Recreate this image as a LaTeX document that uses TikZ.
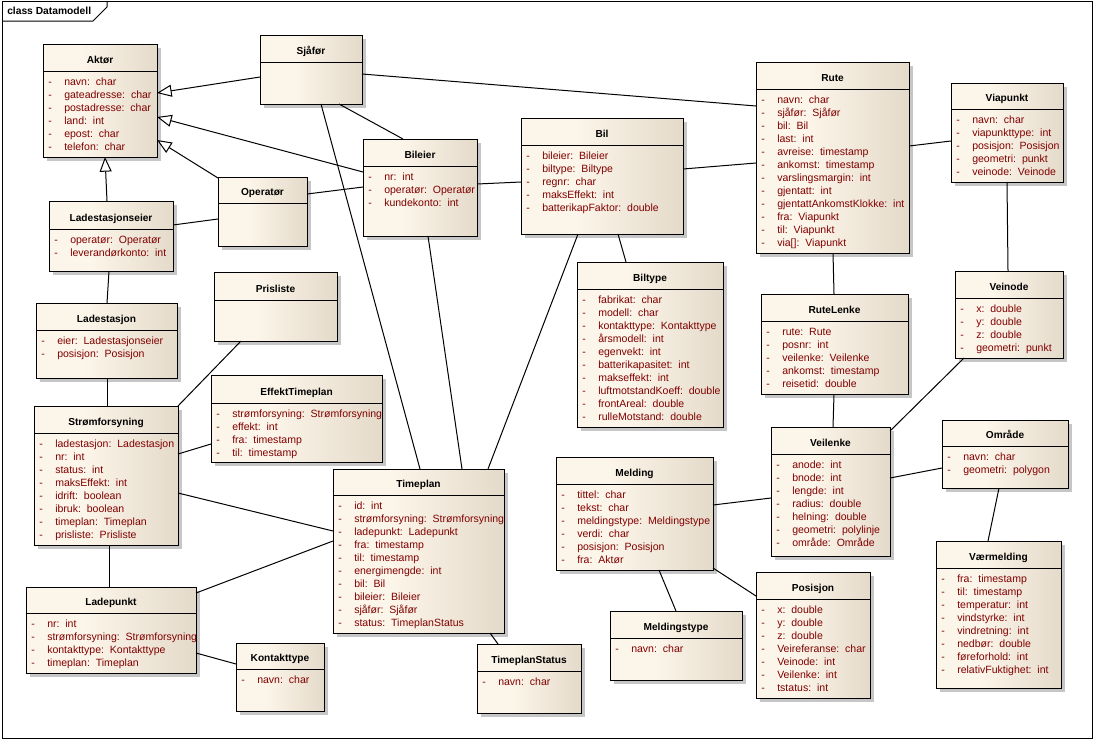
\documentclass[tikz,border=0pt]{standalone}
\usepackage{fontspec}
\setmainfont{Liberation Sans}
\usetikzlibrary{arrows.meta,calc}
\definecolor{clsL}{RGB}{252,245,233}
\definecolor{clsR}{RGB}{228,218,202}
\definecolor{shadowc}{RGB}{198,198,198}
\definecolor{attrc}{RGB}{128,0,0}
\newlength\pxu \setlength\pxu{0.75pt}
\pgfdeclarehorizontalshading{clsshade}{100bp}{color(0bp)=(clsL); color(25bp)=(clsL); color(42bp)=(clsL); color(75bp)=(clsR); color(100bp)=(clsR)}
\tikzset{
  clsbox/.style={draw, line width=0.75pt, shade, shading=clsshade, anchor=north west, inner sep=0pt, outer sep=0pt},
  clstitle/.style={anchor=base, inner sep=0pt, font=\bfseries\fontsize{7.6}{9}\selectfont},
  attr/.style={anchor=base west, inner sep=0pt, text=attrc, font=\fontsize{7.9}{9.75}\selectfont},
  conn/.style={draw, line width=0.75pt},
  gen/.style={conn, -{Triangle[length=11pt,width=9pt,fill=white]}}
}
\newcommand\umlbox[7]{%
  \fill[shadowc] (#2+4,#3+4) rectangle (#4+4,#5+4);
  \node[clsbox, minimum width={(#4-#2)*0.75pt}, minimum height={(#5-#3)*0.75pt}] (#1) at (#2,#3) {};
  \draw[line width=0.75pt] ($(#1.north west)+(0,#6-#3)$) -- ($(#1.north east)+(0,#6-#3)$);
  \node[clstitle] (#1-t) at ({(#2+#4)/2},#6-8) {#7};
}
\newcommand\umlattrs[4]{%
  \foreach \a [count=\i] in {#4} {\node[attr] (#1-a\i) at (#2+5,#3+14+13*\i-13) {\makebox[16\pxu][l]{-}\a};}
}
\begin{document}
\begin{tikzpicture}[x=0.75pt,y=-0.75pt]
\useasboundingbox (0,0) rectangle (1094,739);
% frame
\node[draw, line width=0.75pt, anchor=north west, inner sep=0pt, outer sep=0pt, minimum width={1090*0.75pt}, minimum height={737*0.75pt}] (frame) at (2,1) {};
\draw[line width=0.75pt] ($(frame.north west)+(0,20)$) -- ++(91,0) -- ++(14,-14) -- ($(frame.north west)+(105,0)$);
\node[anchor=base west, inner sep=0pt, font=\bfseries\fontsize{7.7}{9}\selectfont] (frametitle) at (7,14.5) {class Datamodell};

% classes
\umlbox{aktor}{43}{44}{157}{157}{71}{Aktør}
\umlattrs{aktor}{43}{71}{navn:~~char, gateadresse:~~char, postadresse:~~char, land:~~int, epost:~~char, telefon:~~char}
\umlbox{sjafor}{260}{35}{362}{104}{62}{Sjåfør}
\umlbox{operator}{218}{177}{307}{246}{203}{Operatør}
\umlbox{lseier}{49}{201}{173}{271}{229}{Ladestasjonseier}
\umlattrs{lseier}{49}{229}{operatør:~~Operatør, leverandørkonto:~~int}
\umlbox{bileier}{363}{139}{477}{236}{166}{Bileier}
\umlattrs{bileier}{363}{166}{nr:~~int, operatør:~~Operatør, kundekonto:~~int}
\umlbox{bil}{521}{118}{683}{234}{145}{Bil}
\umlattrs{bil}{521}{145}{bileier:~~Bileier, biltype:~~Biltype, regnr:~~char, maksEffekt:~~int, batterikapFaktor:~~double}
\umlbox{rute}{756}{62}{909}{253}{89}{Rute}
\umlattrs{rute}{756}{89}{navn:~~char, sjåfør:~~Sjåfør, bil:~~Bil, last:~~int, avreise:~~timestamp, ankomst:~~timestamp, varslingsmargin:~~int, gjentatt:~~int, gjentattAnkomstKlokke:~~int, fra:~~Viapunkt, til:~~Viapunkt, {via[]:~~Viapunkt}}
\umlbox{viapunkt}{951}{83}{1063}{182}{109}{Viapunkt}
\umlattrs{viapunkt}{951}{109}{navn:~~char, viapunkttype:~~int, posisjon:~~Posisjon, geometri:~~punkt, veinode:~~Veinode}
\umlbox{veinode}{955}{271}{1063}{358}{298}{Veinode}
\umlattrs{veinode}{955}{298}{x:~~double, y:~~double, z:~~double, geometri:~~punkt}
\umlbox{rutelenke}{761}{294}{908}{394}{321}{RuteLenke}
\umlattrs{rutelenke}{761}{321}{rute:~~Rute, posnr:~~int, veilenke:~~Veilenke, ankomst:~~timestamp, reisetid:~~double}
\umlbox{veilenke}{771}{427}{890}{556}{454}{Veilenke}
\umlattrs{veilenke}{771}{454}{anode:~~int, bnode:~~int, lengde:~~int, radius:~~double, helning:~~double, geometri:~~polylinje, område:~~Område}
\umlbox{omrade}{942}{420}{1068}{488}{446}{Område}
\umlattrs{omrade}{942}{446}{navn:~~char, geometri:~~polygon}
\umlbox{varmelding}{936}{541}{1061}{688}{568}{Værmelding}
\umlattrs{varmelding}{936}{568}{fra:~~timestamp, til:~~timestamp, temperatur:~~int, vindstyrke:~~int, vindretning:~~int, nedbør:~~double, føreforhold:~~int, relativFuktighet:~~int}
\umlbox{posisjon}{756}{572}{870}{698}{599}{Posisjon}
\umlattrs{posisjon}{756}{599}{x:~~double, y:~~double, z:~~double, Veireferanse:~~char, Veinode:~~int, Veilenke:~~int, tstatus:~~int}
\umlbox{meldingstype}{610}{611}{742}{680}{638}{Meldingstype}
\umlattrs{meldingstype}{610}{638}{navn:~~char}
\umlbox{melding}{556}{457}{713}{570}{484}{Melding}
\umlattrs{melding}{556}{484}{tittel:~~char, tekst:~~char, meldingstype:~~Meldingstype, verdi:~~char, posisjon:~~Posisjon, fra:~~Aktør}
\umlbox{tpstatus}{477}{644}{581}{713}{671}{TimeplanStatus}
\umlattrs{tpstatus}{477}{671}{navn:~~char}
\umlbox{timeplan}{333}{469}{504}{633}{495}{Timeplan}
\umlattrs{timeplan}{333}{495}{id:~~int, strømforsyning:~~Strømforsyning, ladepunkt:~~Ladepunkt, fra:~~timestamp, til:~~timestamp, energimengde:~~int, bil:~~Bil, bileier:~~Bileier, sjåfør:~~Sjåfør, status:~~TimeplanStatus}
\umlbox{biltype}{577}{262}{723}{427}{289}{Biltype}
\umlattrs{biltype}{577}{289}{fabrikat:~~char, modell:~~char, kontakttype:~~Kontakttype, årsmodell:~~int, egenvekt:~~int, batterikapasitet:~~int, makseffekt:~~int, luftmotstandKoeff:~~double, frontAreal:~~double, rulleMotstand:~~double}
\umlbox{effekt}{211}{375}{382}{462}{403}{EffektTimeplan}
\umlattrs{effekt}{211}{403}{strømforsyning:~~Strømforsyning, effekt:~~int, fra:~~timestamp, til:~~timestamp}
\umlbox{prisliste}{214}{272}{337}{341}{300}{Prisliste}
\umlbox{ladestasjon}{36}{303}{177}{378}{330}{Ladestasjon}
\umlattrs{ladestasjon}{36}{330}{eier:~~Ladestasjonseier, posisjon:~~Posisjon}
\umlbox{strom}{34}{406}{178}{545}{433}{Strømforsyning}
\umlattrs{strom}{34}{433}{ladestasjon:~~Ladestasjon, nr:~~int, status:~~int, maksEffekt:~~int, idrift:~~boolean, ibruk:~~boolean, timeplan:~~Timeplan, prisliste:~~Prisliste}
\umlbox{ladepunkt}{26}{587}{196}{673}{613}{Ladepunkt}
\umlattrs{ladepunkt}{26}{613}{nr:~~int, strømforsyning:~~Strømforsyning, kontakttype:~~Kontakttype, timeplan:~~Timeplan}
\umlbox{kontakttype}{236}{643}{324}{711}{669}{Kontakttype}
\umlattrs{kontakttype}{236}{669}{navn:~~char}

% generalizations
\draw[gen] ($(sjafor.north west)+(0,42)$) -- ($(aktor.north west)+(114,49)$);
\draw[gen] ($(bileier.north west)+(0,33)$) -- ($(aktor.north west)+(114,73)$);
\draw[gen] ($(operator.north west)+(0,1)$) -- ($(aktor.north west)+(114,96)$);
\draw[gen] ($(lseier.north west)+(58,0)$) -- ($(aktor.north west)+(62,113)$);

% associations
\draw[conn] ($(sjafor.north west)+(102,39)$) -- ($(rute.north west)+(0,44)$);
\draw[conn] ($(sjafor.north west)+(79,69)$) -- ($(bileier.north west)+(40,0)$);
\draw[conn] ($(sjafor.north west)+(61,69)$) -- ($(timeplan.north west)+(87,0)$);
\draw[conn] ($(operator.north west)+(89,17)$) -- ($(bileier.north west)+(0,48)$);
\draw[conn] ($(lseier.north west)+(124,24)$) -- ($(operator.north west)+(0,42)$);
\draw[conn] ($(bileier.north west)+(114,45)$) -- ($(bil.north west)+(0,64)$);
\draw[conn] ($(bil.north west)+(162,51)$) -- ($(rute.north west)+(0,101)$);
\draw[conn] ($(rute.north west)+(153,84)$) -- ($(viapunkt.north west)+(0,58)$);
\draw[conn] ($(viapunkt.north west)+(56,99)$) -- ($(veinode.north west)+(53,0)$);
\draw[conn] ($(rute.north west)+(77,191)$) -- ($(rutelenke.north west)+(73,0)$);
\draw[conn] ($(rutelenke.north west)+(73,100)$) -- ($(veilenke.north west)+(62,0)$);
\draw[conn] ($(veinode.north west)+(9,87)$) -- ($(veilenke.north west)+(119,4)$);
\draw[conn] ($(veilenke.north west)+(119,51)$) -- ($(omrade.north west)+(0,48)$);
\draw[conn] ($(omrade.north west)+(57,68)$) -- ($(varmelding.north west)+(52,0)$);
\draw[conn] ($(melding.north west)+(157,48)$) -- ($(veilenke.north west)+(0,71)$);
\draw[conn] ($(melding.north west)+(157,111)$) -- ($(posisjon.north west)+(0,24)$);
\draw[conn] ($(melding.north west)+(103,113)$) -- ($(meldingstype.north west)+(66,0)$);
\draw[conn] ($(bil.north west)+(97,116)$) -- ($(biltype.north west)+(49,0)$);
\draw[conn] ($(bil.north west)+(57,116)$) -- ($(timeplan.north west)+(155,0)$);
\draw[conn] ($(bileier.north west)+(65,97)$) -- ($(timeplan.north west)+(129,0)$);
\draw[conn] ($(timeplan.north west)+(157,164)$) -- ($(tpstatus.north west)+(21,0)$);
\draw[conn] ($(strom.north west)+(144,87)$) -- ($(timeplan.north west)+(0,62)$);
\draw[conn] ($(ladepunkt.north west)+(170,6)$) -- ($(timeplan.north west)+(0,72)$);
\draw[conn] ($(ladepunkt.north west)+(170,66)$) -- ($(kontakttype.north west)+(0,21)$);
\draw[conn] ($(strom.north west)+(75,139)$) -- ($(ladepunkt.north west)+(83,0)$);
\draw[conn] ($(ladestasjon.north west)+(71,75)$) -- ($(strom.north west)+(73,0)$);
\draw[conn] ($(lseier.north west)+(60,70)$) -- ($(ladestasjon.north west)+(71,0)$);
\draw[conn] ($(prisliste.north west)+(27,69)$) -- ($(strom.north west)+(144,0)$);
\draw[conn] ($(effekt.north west)+(0,69)$) -- ($(strom.north west)+(144,48)$);
\end{tikzpicture}
\end{document}
